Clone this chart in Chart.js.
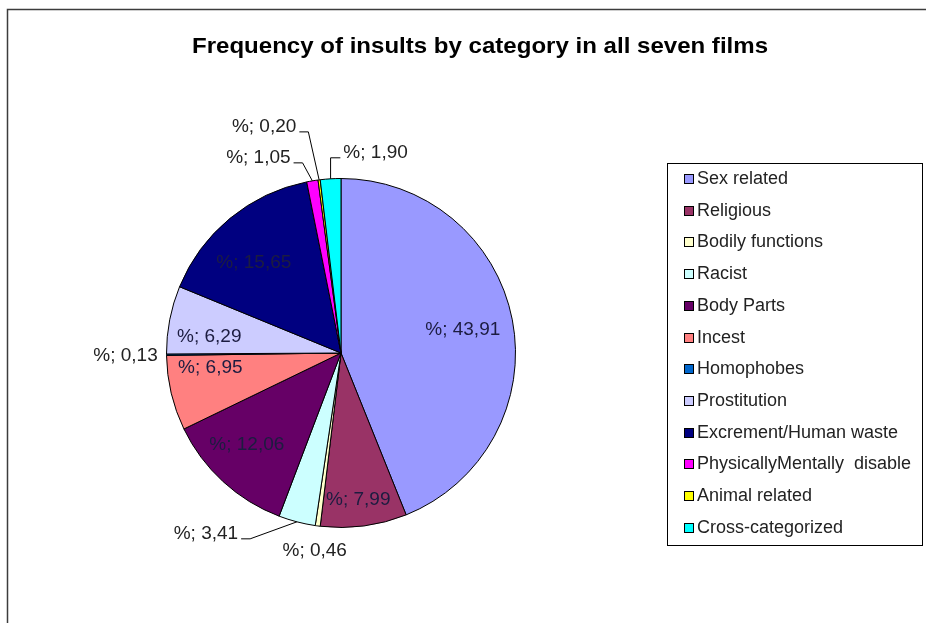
<!DOCTYPE html>
<html>
<head>
<meta charset="utf-8">
<script src="https://cdn.jsdelivr.net/npm/chart.js@4.4.1/dist/chart.umd.min.js"></script>
<style>
  html, body { margin: 0; padding: 0; background: #ffffff; }
  #wrap { position: relative; width: 926px; height: 623px; overflow: hidden; }
  canvas { display: block; }
</style>
</head>
<body>
<div id="wrap"><canvas id="c" width="926" height="623"></canvas></div>
<script>
// Insult categories and their share (%) across the seven films
const categories = [
  'Sex related', 'Religious', 'Bodily functions', 'Racist', 'Body Parts', 'Incest',
  'Homophobes', 'Prostitution', 'Excrement/Human waste', 'PhysicallyMentally  disable',
  'Animal related', 'Cross-categorized'
];
const shares = [43.91, 7.99, 0.46, 3.41, 12.06, 6.95, 0.13, 6.29, 15.65, 1.05, 0.20, 1.90];
const chartTitle = 'Frequency of insults by category in all seven films';

// Slice fills (classic office palette)
const sliceColors = [
  '#9999FF', '#993366', '#FFFFCC', '#CCFFFF', '#660066', '#FF8080',
  '#0066CC', '#CCCCFF', '#000080', '#FF00FF', '#FFFF00', '#00FFFF'
];

// Where each data label goes: inside the slice (radius fraction + nudge),
// or outside with an offset (px) from the slice's outer edge, optionally
// joined to it by a leader line.
const labelPlacement = [
  { inside: true, r: 0.74, dx: -5, dy: 1 },
  { inside: true, r: 0.84, dx: -2, dy: 1 },
  { dx: -3, dy: 25, leader: false },
  { dx: -91, dy: 12, leader: true, elbow: 'left' },
  { inside: true, r: 0.74, dx: -7, dy: -3 },
  { inside: true, r: 0.74, dx: -5, dy: -15 },
  { dx: -41, dy: 1, leader: false },
  { inside: true, r: 0.74, dx: -5, dy: 8 },
  { inside: true, r: 0.74, dx: -5, dy: 9 },
  { dx: -54, dy: -23, leader: true, elbow: 'left' },
  { dx: -55, dy: -53, leader: true, elbow: 'left' },
  { dx: 45, dy: -26, leader: true, elbow: 'right' }
];

const fmt = v => '%; ' + v.toFixed(2).replace('.', ',');

const decorPlugin = {
  id: 'decor',
  beforeDraw(chart) {
    const ctx = chart.ctx;
    ctx.save();
    ctx.fillStyle = '#ffffff';
    ctx.fillRect(0, 0, chart.width, chart.height);
    // outer frame
    ctx.strokeStyle = '#3c3c3c';
    ctx.lineWidth = 1.5;
    ctx.strokeRect(7.5, 9.5, 960, 660);
    // title (condensed bold face)
    ctx.fillStyle = '#000000';
    ctx.font = 'bold 22px "Liberation Sans", Arial, sans-serif';
    ctx.textBaseline = 'middle';
    ctx.textAlign = 'center';
    const w = ctx.measureText(chartTitle).width;
    const target = 576;
    ctx.translate(480, 47);
    ctx.scale(target / w, 1);
    ctx.fillText(chartTitle, 0, 0);
    ctx.restore();

    // legend box
    ctx.save();
    ctx.strokeStyle = '#000000';
    ctx.lineWidth = 1;
    ctx.strokeRect(667.5, 163.5, 255, 382);
    ctx.font = '18px "Liberation Sans", Arial, sans-serif';
    ctx.textBaseline = 'middle';
    ctx.textAlign = 'left';
    categories.forEach((name, i) => {
      const y = Math.round(179 + i * 31.7);
      ctx.fillStyle = sliceColors[i];
      ctx.fillRect(684.5, y - 4.5, 9, 9);
      ctx.strokeStyle = '#000000';
      ctx.strokeRect(684.5, y - 4.5, 9, 9);
      ctx.fillStyle = '#222222';
      ctx.fillText(name, 697, y);
    });
    ctx.restore();
  },
  afterDatasetsDraw(chart) {
    const ctx = chart.ctx;
    const meta = chart.getDatasetMeta(0);
    const values = chart.data.datasets[0].data;
    ctx.save();
    ctx.font = '19px "Liberation Sans", Arial, sans-serif';
    ctx.textBaseline = 'middle';
    meta.data.forEach((arc, i) => {
      const p = arc.getProps(['x', 'y', 'startAngle', 'endAngle', 'outerRadius'], true);
      const mid = (p.startAngle + p.endAngle) / 2;
      const text = fmt(values[i]);
      const pl = labelPlacement[i];
      if (pl.inside) {
        const r = p.outerRadius * pl.r;
        ctx.fillStyle = '#1c1c40';
        ctx.textAlign = 'center';
        ctx.fillText(text, p.x + Math.cos(mid) * r + pl.dx, p.y + Math.sin(mid) * r + pl.dy);
        return;
      }
      const ex = p.x + Math.cos(mid) * p.outerRadius;
      const ey = p.y + Math.sin(mid) * p.outerRadius;
      const lx = ex + pl.dx;
      const ly = ey + pl.dy;
      ctx.fillStyle = '#222222';
      ctx.textAlign = 'center';
      ctx.fillText(text, lx, ly);
      if (pl.leader) {
        const tw = ctx.measureText(text).width;
        ctx.strokeStyle = '#000000';
        ctx.lineWidth = 1;
        ctx.beginPath();
        if (pl.elbow === 'left') {
          const sx = lx + tw / 2 + 3;
          ctx.moveTo(sx, ly + 5);
          ctx.lineTo(sx + 9, ly + 5);
          ctx.lineTo(ex, ey);
        } else {
          const sx = lx - tw / 2 - 3;
          ctx.moveTo(sx, ly + 5);
          ctx.lineTo(ex, ly + 5);
          ctx.lineTo(ex, ey);
        }
        ctx.stroke();
      }
    });
    ctx.restore();
  }
};

new Chart(document.getElementById('c'), {
  type: 'pie',
  data: {
    labels: categories,
    datasets: [{
      data: shares,
      backgroundColor: sliceColors,
      borderColor: '#000000',
      borderWidth: 1
    }]
  },
  options: {
    responsive: false,
    animation: false,
    devicePixelRatio: 1,
    layout: { padding: { left: 166, right: 410, top: 178, bottom: 95 } },
    plugins: {
      legend: { display: false },
      title: { display: false },
      tooltip: { enabled: false }
    }
  },
  plugins: [decorPlugin]
});
</script>
</body>
</html>
